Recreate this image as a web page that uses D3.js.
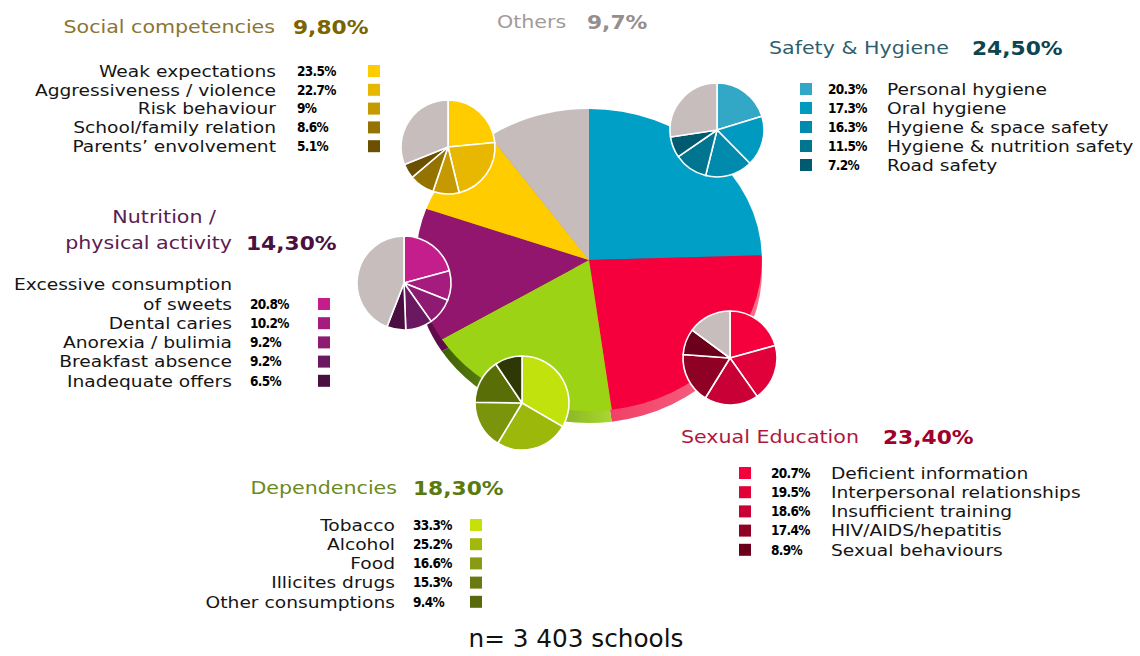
<!DOCTYPE html>
<html>
<head>
<meta charset="utf-8">
<script src="https://cdn.jsdelivr.net/npm/d3@7"></script>
<style>
  html, body { margin: 0; padding: 0; background: #fff; }
  svg { display: block; }
</style>
</head>
<body>
<div id="chart"></div>
<script>
// main split of the themes
const groupNames = ["Safety & Hygiene", "Sexual Education", "Dependencies", "Nutrition /|physical activity", "Social competencies", "Others"];
const groupShares = [24.5, 23.4, 18.3, 14.3, 9.8, 9.7];
const groupShareLabels = ["24,50%", "23,40%", "18,30%", "14,30%", "9,80%", "9,7%"];

// sub items per theme
const safetyItems = ["Personal hygiene", "Oral hygiene", "Hygiene & space safety", "Hygiene & nutrition safety", "Road safety"];
const safetyValues = [20.3, 17.3, 16.3, 11.5, 7.2];
const sexualItems = ["Deficient information", "Interpersonal relationships", "Insufficient training", "HIV/AIDS/hepatitis", "Sexual behaviours"];
const sexualValues = [20.7, 19.5, 18.6, 17.4, 8.9];
const dependItems = ["Tobacco", "Alcohol", "Food", "Illicites drugs", "Other consumptions"];
const dependValues = [33.3, 25.2, 16.6, 15.3, 9.4];
const nutritionItems = ["Excessive consumption|of sweets", "Dental caries", "Anorexia / bulimia", "Breakfast absence", "Inadequate offers"];
const nutritionValues = [20.8, 10.2, 9.2, 9.2, 6.5];
const socialItems = ["Weak expectations", "Aggressiveness / violence", "Risk behaviour", "School/family relation", "Parents\u2019 envolvement"];
const socialValues = [23.5, 22.7, 9, 8.6, 5.1];

const footNote = "n= 3 403 schools";

// colours
const mainColors = ["#00a0c6", "#f5003c", "#9dd315", "#93166e", "#ffcc00", "#c7bcbc"];
const grey = "#c7bdbd";
const subColors = [
  ["#33a8c6", "#009ac1", "#008aad", "#007590", "#005a70"],
  ["#f5003c", "#e0003a", "#c80035", "#8e0024", "#6a0019"],
  ["#c2e20e", "#9cb80a", "#7a940c", "#5a6e08", "#2e3804"],
  ["#c41e8c", "#a51b7e", "#8e1a72", "#6a1860", "#4a0e40"],
  ["#ffcc00", "#e8b800", "#c49a00", "#957300", "#6a5000"]
];
const keyColors = [
  subColors[0], subColors[1],
  ["#c8e00a", "#a2b80c", "#8a9a14", "#6a7a10", "#58690e"],
  subColors[3], subColors[4]
];
const headColors = [
  ["#2f5f6f", "#0d4550"],
  ["#b0173f", "#a0002c"],
  ["#6b8a20", "#5a7a10"],
  ["#5a2050", "#4a1040"],
  ["#8a7535", "#7a6400"],
  ["#a29a9a", "#968e8e"]
];

const W = 1140, H = 656;
const sx = 1.145;          // the picture is stretched sideways
const fontFam = "'DejaVu Sans', Verdana, sans-serif";
const pctFam = "'DejaVu Sans Condensed', 'DejaVu Sans', sans-serif";

const svg = d3.select("#chart").append("svg").attr("width", W).attr("height", H);
const defs = svg.append("defs");

function txt(x, y, s, o) {
  o = o || {};
  const t = svg.append("text")
    .attr("transform", `translate(${x},${y}) scale(${o.sx || sx},1)`)
    .attr("dy", o.dy || "0.36em")
    .attr("text-anchor", o.anchor || "start")
    .attr("font-family", o.family || fontFam)
    .attr("font-size", o.size || 16.3)
    .attr("font-weight", o.weight || "normal")
    .attr("fill", o.fill || "#151515")
    .text(s);
  if (o.ls) t.attr("letter-spacing", o.ls);
  return t;
}

// ---- main pie ----
const cx = 589, cy = 260, R = 151, depth = 12;
const pie = d3.pie().sort(null).value(d => d);
const arcs = pie(groupShares);
const arc = d3.arc().innerRadius(0).outerRadius(R);

const sideCols = [["#00718d", "#0090b2"], ["#f03a62", "#f7708a"], ["#3d5f05", "#a8d830"], ["#5a0c44", "#7a1260"], ["#b08c00", "#d8ae00"], ["#9a9090", "#b0a6a6"]];
sideCols.forEach((c, i) => {
  const g = defs.append("linearGradient").attr("id", "side" + i);
  g.append("stop").attr("offset", "0%").attr("stop-color", c[0]);
  g.append("stop").attr("offset", "100%").attr("stop-color", c[1]);
});

const sideFace = svg.append("g").attr("transform", `translate(${cx},${cy + depth}) scale(${sx},1)`);
sideFace.selectAll("path").data(arcs).join("path")
  .attr("d", arc)
  .attr("fill", (d, i) => `url(#side${i})`);

const topFace = svg.append("g").attr("transform", `translate(${cx},${cy}) scale(${sx},1)`);
topFace.selectAll("path").data(arcs).join("path")
  .attr("d", arc)
  .attr("fill", (d, i) => mainColors[i]);

// ---- small pies (inset placement) ----
const insetCenters = [[717, 130], [730, 358], [522, 403], [404, 283], [448, 147]];
const subValues = [safetyValues, sexualValues, dependValues, nutritionValues, socialValues];
const r = 47;
const subArc = d3.arc().innerRadius(0).outerRadius(r);

subValues.forEach((vals, gi) => {
  const rest = 100 - d3.sum(vals);
  const full = rest > 0.5 ? vals.concat([rest]) : vals.slice();
  const cols = subColors[gi].concat([grey]);
  const g = svg.append("g").attr("transform", `translate(${insetCenters[gi][0]},${insetCenters[gi][1]})`);
  g.selectAll("path").data(pie(full)).join("path")
    .attr("d", subArc)
    .attr("fill", (d, i) => cols[i])
    .attr("stroke", "#fff")
    .attr("stroke-width", 1.6)
    .attr("stroke-linejoin", "round");
});

// ---- legends ----
const legends = [
  { head: [769, 48, "start"], val: 972, rows: 89, step: 19, sq: 800, pct: 828, lab: 887, side: "right" },
  { head: [681, 437, "start"], val: 883, rows: 473, step: 19.2, sq: 739, pct: 771, lab: 831, side: "right" },
  { head: [397, 488, "end"], val: 413, rows: 525, step: 19.2, sq: 470, pct: 413, lab: 395, side: "left" },
  { head: [232, 243, "end"], val: 246, rows: 304, step: 19.2, sq: 318, pct: 250, lab: 232, side: "left" },
  { head: [275, 27, "end"], val: 293, rows: 71, step: 18.8, sq: 368, pct: 297, lab: 276, side: "left" }
];
const subItems = [safetyItems, sexualItems, dependItems, nutritionItems, socialItems];

legends.forEach((L, gi) => {
  const names = groupNames[gi].split("|");
  names.forEach((n, k) => {
    const yy = L.head[1] - (names.length - 1 - k) * 26;
    const x0 = k < names.length - 1 ? L.head[0] - 16 : L.head[0];
    txt(x0, yy, n, { anchor: L.head[2], size: 18, fill: headColors[gi][0] });
  });
  txt(L.val, L.head[1], groupShareLabels[gi], { size: 19, weight: "bold", fill: headColors[gi][1] });

  subItems[gi].forEach((item, i) => {
    const y = L.rows + i * L.step;
    const lines = item.split("|");
    lines.forEach((ln, k) => {
      txt(L.lab, y - (lines.length - 1 - k) * 20, ln, { anchor: L.side === "left" ? "end" : "start" });
    });
    txt(L.pct, y, subValues[gi][i] + "%", { family: pctFam, size: 13.5, weight: "bold", fill: "#000", sx: 1, ls: -0.7 });
    svg.append("rect")
      .attr("x", L.sq).attr("y", y - 6)
      .attr("width", 12).attr("height", 12)
      .attr("fill", keyColors[gi][i]);
  });
});

// Others
txt(497, 22, groupNames[5], { size: 18, fill: headColors[5][0] });
txt(587, 22, groupShareLabels[5], { size: 19, weight: "bold", fill: headColors[5][1] });

// footnote
txt(576, 647, footNote, { anchor: "middle", size: 24, fill: "#111", sx: 1.03, dy: "0" });
</script>
</body>
</html>
